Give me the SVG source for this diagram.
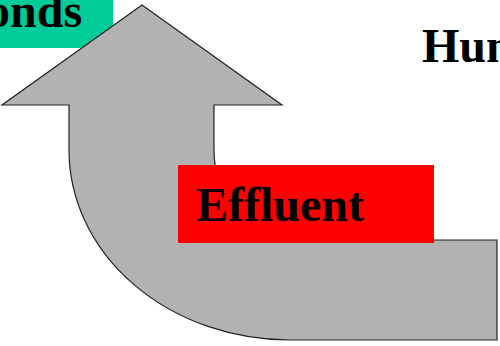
<svg xmlns="http://www.w3.org/2000/svg" width="500" height="346" viewBox="0 0 500 346">
  <style>
    .label { font-family: "Liberation Serif", "Times New Roman", serif; font-weight: bold; font-size: 48px; fill: #000; }
    .arrow { fill: #b2b2b2; stroke: #222; stroke-width: 1.2; stroke-linejoin: miter; }
  </style>
  <rect width="500" height="346" fill="#fff"/>

  <!-- partly visible label box, top left -->
  <g id="ponds">
    <rect x="0" y="0" width="113" height="48" fill="#00cc99"/>
    <text class="label" x="-14" y="27">onds</text>
  </g>

  <!-- heading, running off the right edge -->
  <g id="heading">
    <text class="label" x="422" y="62">Hun</text>
  </g>

  <!-- bent arrow: enters from the right, turns upward -->
  <g id="connectors">
    <path class="arrow" d="M142,5 L282,105 L214,105 L214,150 A76,90 0 0 0 290,240 L497,240 L497,340 L290,340 A221,190 0 0 1 69,150 L69,105 L2,105 Z"/>
  </g>

  <!-- effluent label -->
  <g id="effluent">
    <rect x="178" y="165" width="256" height="78" fill="#ff0000"/>
    <text class="label" x="196" y="221">Effluent</text>
  </g>
</svg>
